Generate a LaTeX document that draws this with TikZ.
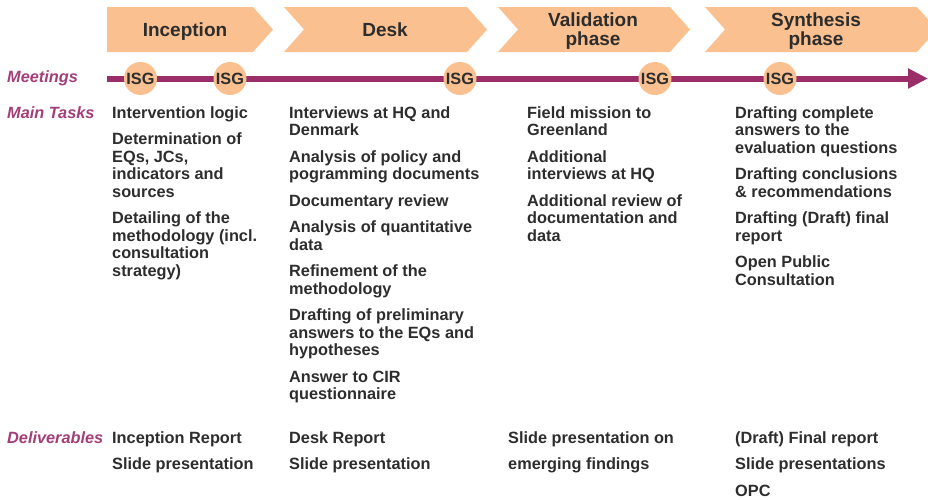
\documentclass[tikz,border=0pt]{standalone}
\usepackage{fontspec}
\setmainfont{Liberation Sans}
\usetikzlibrary{arrows.meta}
\definecolor{peach}{HTML}{FAC090}
\definecolor{tline}{RGB}{155,45,105}
\definecolor{lblc}{RGB}{163,62,120}
\definecolor{txt}{RGB}{45,45,45}
\newcommand{\tfirst}{\rule{0pt}{13pt}}
\newcommand{\hfirst}{\rule{0pt}{15pt}}
\begin{document}
\begin{tikzpicture}[x=1pt,y=-1pt,
  chev/.style={fill=peach, draw=none},
  head/.style={font=\fontsize{19}{18.5}\selectfont\bfseries, text=txt, align=center, inner sep=0pt, anchor=north},
  task/.style={font=\fontsize{16.3}{17.5}\selectfont\bfseries, text=txt, align=left, inner sep=0pt, anchor=north west},
  rowlbl/.style={font=\fontsize{16.3}{17.5}\selectfont\bfseries\itshape, text=lblc, inner sep=0pt, anchor=base west},
  isg/.style={circle, fill=peach, minimum size=33pt, inner sep=0pt, font=\fontsize{16.3}{17.5}\selectfont\bfseries, text=txt}]
\useasboundingbox (0,0) rectangle (928,499);
\clip (0,0) rectangle (928,499);

% phase chevrons
\fill[chev] (107,7) -- (253,7) -- (273,29.5) -- (253,52) -- (107,52) -- cycle;
\fill[chev] (284,7) -- (467,7) -- (487,29.5) -- (467,52) -- (284,52) -- (304,29.5) -- cycle;
\fill[chev] (498,7) -- (670,7) -- (690,29.5) -- (670,52) -- (498,52) -- (518,29.5) -- cycle;
\fill[chev] (705,7) -- (917,7) -- (937,29.5) -- (917,52) -- (705,52) -- (725,29.5) -- cycle;

\node[head] (hinc) at (185,21) {\hfirst Inception};
\node[head] (hdesk) at (385,21) {\hfirst Desk};
\node[head] (hval) at (593,11.7) {\hfirst Validation\\phase};
\node[head] (hsyn) at (816,11.7) {\hfirst Synthesis\\phase};

% row labels
\node[rowlbl] (lmeet) at (7,82) {Meetings};
\node[rowlbl] (ltask) at (7,118) {Main Tasks};
\node[rowlbl] (ldel) at (7,443) {Deliverables};

% timeline
\coordinate (tlstart) at (107,78.5);
\coordinate (tlend) at (928,78.5);
\draw[tline, line width=6pt, -{Triangle[length=20pt,width=19pt]}] (tlstart) -- (tlend);

\node[isg] (isg1) at (140.5,78.5) {ISG};
\node[isg] (isg2) at (230,78.5) {ISG};
\node[isg] (isg3) at (460,78.5) {ISG};
\node[isg] (isg4) at (655,78.5) {ISG};
\node[isg] (isg5) at (780,78.5) {ISG};

% main tasks
\node[task] (t1) at (112,105) {\tfirst Intervention logic\\[9pt]
Determination of\\EQs, JCs,\\indicators and\\sources\\[9pt]
Detailing of the\\methodology (incl.\\consultation\\strategy)};

\node[task] (t2) at (289,105) {\tfirst Interviews at HQ and\\Denmark\\[9pt]
Analysis of policy and\\pogramming documents\\[9pt]
Documentary review\\[9pt]
Analysis of quantitative\\data\\[9pt]
Refinement of the\\methodology\\[9pt]
Drafting of preliminary\\answers to the EQs and\\hypotheses\\[9pt]
Answer to CIR\\questionnaire};

\node[task] (t3) at (527,105) {\tfirst Field mission to\\Greenland\\[9pt]
Additional\\interviews at HQ\\[9pt]
Additional review of\\documentation and\\data};

\node[task] (t4) at (735,105) {\tfirst Drafting complete\\answers to the\\evaluation questions\\[9pt]
Drafting conclusions\\\& recommendations\\[9pt]
Drafting (Draft) final\\report\\[9pt]
Open Public\\Consultation};

% deliverables
\node[task] (d1) at (112,430) {\tfirst Inception Report\\[9pt]Slide presentation};
\node[task] (d2) at (289,430) {\tfirst Desk Report\\[9pt]Slide presentation};
\node[task] (d3) at (508,430) {\tfirst Slide presentation on\\[9pt]emerging findings};
\node[task] (d4) at (735,430) {\tfirst (Draft) Final report\\[9pt]Slide presentations\\[9pt]OPC};
\end{tikzpicture}
\end{document}
